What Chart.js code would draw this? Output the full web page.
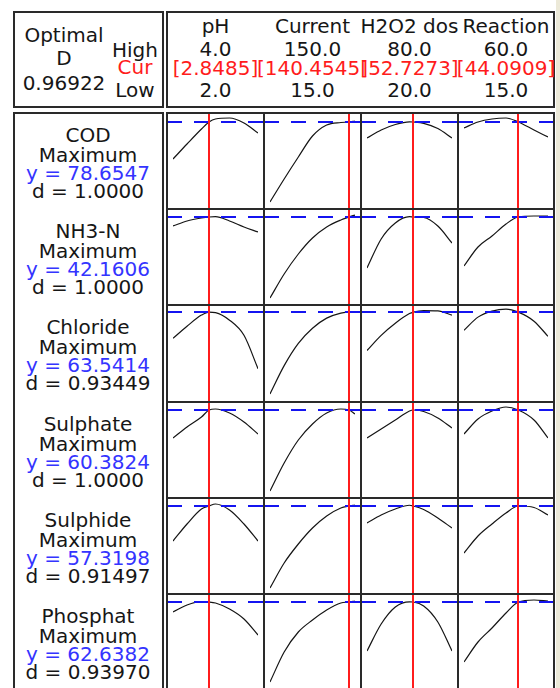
<!DOCTYPE html>
<html>
<head>
<meta charset="utf-8">
<title>Response Optimizer</title>
<script src="https://cdn.jsdelivr.net/npm/chart.js@4.4.0/dist/chart.umd.min.js"></script>
<style>
  body { margin: 0; width: 560px; height: 688px; overflow: hidden; position: relative; background: #fff;
         font-family: "DejaVu Sans", Verdana, sans-serif; font-size: 20px; color: #161616; }
  .box { position: absolute; border: 2px solid #2a2a2a; box-sizing: border-box; z-index: 2; }
  .rule { position: absolute; background: #2a2a2a; z-index: 2; }
  .txt { position: absolute; white-space: nowrap; line-height: 20px; z-index: 3; }
  canvas { position: absolute; z-index: 1; }
  #edge { position: absolute; left: 556px; top: 0; width: 4px; height: 688px; background: #ece9d8; }
</style>
</head>
<body>
<div id="edge"></div>
<script>
// factor settings
const factors = ['pH', 'Current', 'H2O2 dos', 'Reaction'];
const factorHigh = [4.0, 150.0, 80.0, 60.0];
const factorLow = [2.0, 15.0, 20.0, 15.0];
const factorCur = [2.8485, 140.4545, 52.7273, 44.0909];

// responses
const responses = ['COD', 'NH3-N', 'Chloride', 'Sulphate', 'Sulphide', 'Phosphat'];
const goals = ['Maximum', 'Maximum', 'Maximum', 'Maximum', 'Maximum', 'Maximum'];
const predicted = [78.6547, 42.1606, 63.5414, 60.3824, 57.3198, 62.6382];
const desirability = [1.0, 1.0, 0.93449, 1.0, 0.91497, 0.9397];
const compositeD = 0.96922;

// x sample points for each factor
const phX = [2.0, 2.33, 2.67, 2.8485, 3.0, 3.33, 3.67, 4.0];
const currentX = [15, 37.5, 60, 82.5, 105, 127.5, 140.4545, 150];
const h2o2X = [20, 30, 40, 50, 52.7273, 60, 70, 80];
const reactionX = [15, 22.5, 30, 37.5, 44.0909, 52.5, 60];
const factorX = [phX, currentX, h2o2X, reactionX];

// predicted response along each factor (pH, Current, H2O2, Reaction)
const codCurves = [
  [60.15, 67.65, 75.15, 78.65, 80.15, 80.65, 78.15, 73.15],
  [38.65, 50.15, 61.15, 71.65, 77.15, 78.4, 78.65, 79.15],
  [70.65, 74.65, 77.4, 78.75, 78.65, 78.0, 75.4, 70.65],
  [75.65, 78.65, 80.15, 80.65, 78.65, 74.65, 71.15]
];
const nh3Curves = [
  [37.66, 40.16, 41.66, 42.16, 42.3, 40.16, 37.16, 34.66],
  [1.66, 13.66, 23.66, 31.66, 37.16, 40.66, 42.16, 43.16],
  [16.66, 31.16, 39.16, 42.3, 42.16, 41.9, 37.66, 29.16],
  [17.66, 27.16, 32.66, 38.66, 42.16, 42.66, 42.66]
];
const chlorideCurves = [
  [50.54, 56.54, 62.04, 63.54, 63.29, 59.54, 52.04, 35.54],
  [23.04, 37.04, 48.04, 55.54, 60.54, 63.04, 63.54, 63.7],
  [44.54, 52.04, 58.04, 62.79, 63.54, 64.3, 64.1, 62.04],
  [54.54, 61.04, 64.04, 65.04, 63.54, 59.04, 51.54]
];
const sulphateCurves = [
  [46.38, 51.88, 56.88, 60.38, 60.88, 58.88, 54.38, 48.38],
  [19.88, 33.88, 45.38, 53.38, 58.88, 60.88, 60.38, 58.38],
  [46.38, 50.88, 55.38, 59.88, 60.38, 59.63, 56.38, 51.38],
  [48.38, 55.88, 59.88, 61.88, 60.38, 55.38, 46.38]
];
const sulphideCurves = [
  [39.82, 48.32, 55.82, 57.32, 58.32, 55.32, 48.32, 39.82],
  [16.32, 28.82, 38.32, 46.32, 52.32, 56.32, 57.32, 57.82],
  [48.82, 52.82, 55.82, 57.7, 57.32, 55.6, 51.32, 46.32],
  [33.82, 42.32, 48.32, 53.82, 57.32, 56.57, 52.82]
];
const phosphatCurves = [
  [57.64, 61.14, 62.8, 62.64, 62.14, 59.14, 54.14, 46.14],
  [22.64, 37.64, 47.64, 53.64, 58.64, 62.14, 62.64, 63.14],
  [38.14, 51.64, 60.14, 62.75, 62.64, 60.64, 52.64, 38.14],
  [32.64, 42.64, 49.64, 57.14, 62.64, 63.64, 63.14]
];
const curves = [codCurves, nh3Curves, chlorideCurves, sulphateCurves, sulphideCurves, phosphatCurves];

// y axis limits of each row
const yAxisMin = [35.15, -1.84, 19.04, 16.38, 13.32, 18.64];
const yAxisMax = [83.15, 46.16, 67.04, 64.38, 61.32, 66.64];

// layout
const colEdges = [167, 264, 361, 458, 554];
const rowEdges = [113, 209, 305, 402, 498, 594, 690];
const RED = '#ff1c1c';
const BLUE_TXT = '#3434ff';

function addBox(l, t, w, h) {
  const el = document.createElement('div');
  el.className = 'box';
  Object.assign(el.style, { left: l + 'px', top: t + 'px', width: w + 'px', height: h + 'px' });
  document.body.appendChild(el);
}

function addRule(l, t, w, h) {
  const el = document.createElement('div');
  el.className = 'rule';
  Object.assign(el.style, { left: l + 'px', top: t + 'px', width: w + 'px', height: h + 'px' });
  document.body.appendChild(el);
}

function addText(str, x, baseline, color, align) {
  const el = document.createElement('div');
  el.className = 'txt';
  el.textContent = str;
  el.style.top = (baseline - 17) + 'px';
  if (color) el.style.color = color;
  document.body.appendChild(el);
  const w = el.getBoundingClientRect().width;
  el.style.left = (align === 'right' ? x - w : x - w / 2) + 'px';
}

// frames
addBox(13, 11, 151, 97);
addBox(166, 11, 389, 97);
addBox(13, 112, 151, 600);
addBox(166, 112, 389, 600);
for (let c = 1; c < 4; c++) addRule(colEdges[c] - 1, 112, 2, 600);
for (let r = 1; r < 6; r++) addRule(166, rowEdges[r] - 1, 389, 2);

// header texts
addText('Optimal', 64, 42);
addText('D', 64, 65);
addText(compositeD.toPrecision(5), 64, 90);
addText('High', 135, 57);
addText('Cur', 135, 74, RED);
addText('Low', 135, 97);
factors.forEach((name, c) => {
  const cx = (colEdges[c] + colEdges[c + 1]) / 2;
  addText(name, cx, 33);
  addText(factorHigh[c].toFixed(1), cx, 56);
  addText('[' + factorCur[c].toFixed(4) + ']', cx, 75, RED);
  addText(factorLow[c].toFixed(1), cx, 97);
});

// response labels
responses.forEach((name, r) => {
  const t = rowEdges[r];
  addText(name, 88, t + 29);
  addText(goals[r], 88, t + 48.5);
  addText('y = ' + predicted[r].toFixed(4), 88, t + 66.5, BLUE_TXT);
  addText('d = ' + desirability[r].toPrecision(5), 88, t + 85);
});

// current setting and predicted response lines
const markerLines = {
  id: 'markerLines',
  afterDatasetsDraw(chart, args, opts) {
    const { ctx, scales: { x, y } } = chart;
    const py = Math.round(y.getPixelForValue(opts.yValue));
    const px = Math.round(x.getPixelForValue(opts.xValue));
    ctx.save();
    ctx.lineWidth = 2;
    ctx.strokeStyle = '#1414f0';
    ctx.setLineDash([15, 12]);
    ctx.beginPath();
    ctx.moveTo(0, py);
    ctx.lineTo(chart.width, py);
    ctx.stroke();
    ctx.setLineDash([]);
    ctx.strokeStyle = RED;
    ctx.beginPath();
    ctx.moveTo(px, 0);
    ctx.lineTo(px, chart.height);
    ctx.stroke();
    ctx.restore();
  }
};

responses.forEach((resp, r) => {
  factors.forEach((fac, c) => {
    const left = colEdges[c], top = rowEdges[r];
    const w = colEdges[c + 1] - left, h = rowEdges[r + 1] - top;
    const canvas = document.createElement('canvas');
    canvas.width = w;
    canvas.height = h;
    canvas.style.left = left + 'px';
    canvas.style.top = top + 'px';
    canvas.style.width = w + 'px';
    canvas.style.height = h + 'px';
    document.body.appendChild(canvas);

    const xs = factorX[c];
    const ys = curves[r][c];
    new Chart(canvas, {
      type: 'line',
      data: {
        datasets: [{
          data: xs.map((x, i) => ({ x: x, y: ys[i] })),
          borderColor: '#151515',
          borderWidth: 1.2,
          pointRadius: 0,
          cubicInterpolationMode: 'monotone',
          fill: false
        }]
      },
      options: {
        responsive: false,
        animation: false,
        events: [],
        layout: { padding: { left: 6, right: 6, top: 0, bottom: 0 } },
        scales: {
          x: { type: 'linear', min: factorLow[c], max: factorHigh[c], display: false },
          y: { min: yAxisMin[r], max: yAxisMax[r], display: false }
        },
        plugins: {
          legend: { display: false },
          tooltip: { enabled: false },
          markerLines: { xValue: factorCur[c], yValue: predicted[r] }
        }
      },
      plugins: [markerLines]
    });
  });
});
</script>
</body>
</html>
